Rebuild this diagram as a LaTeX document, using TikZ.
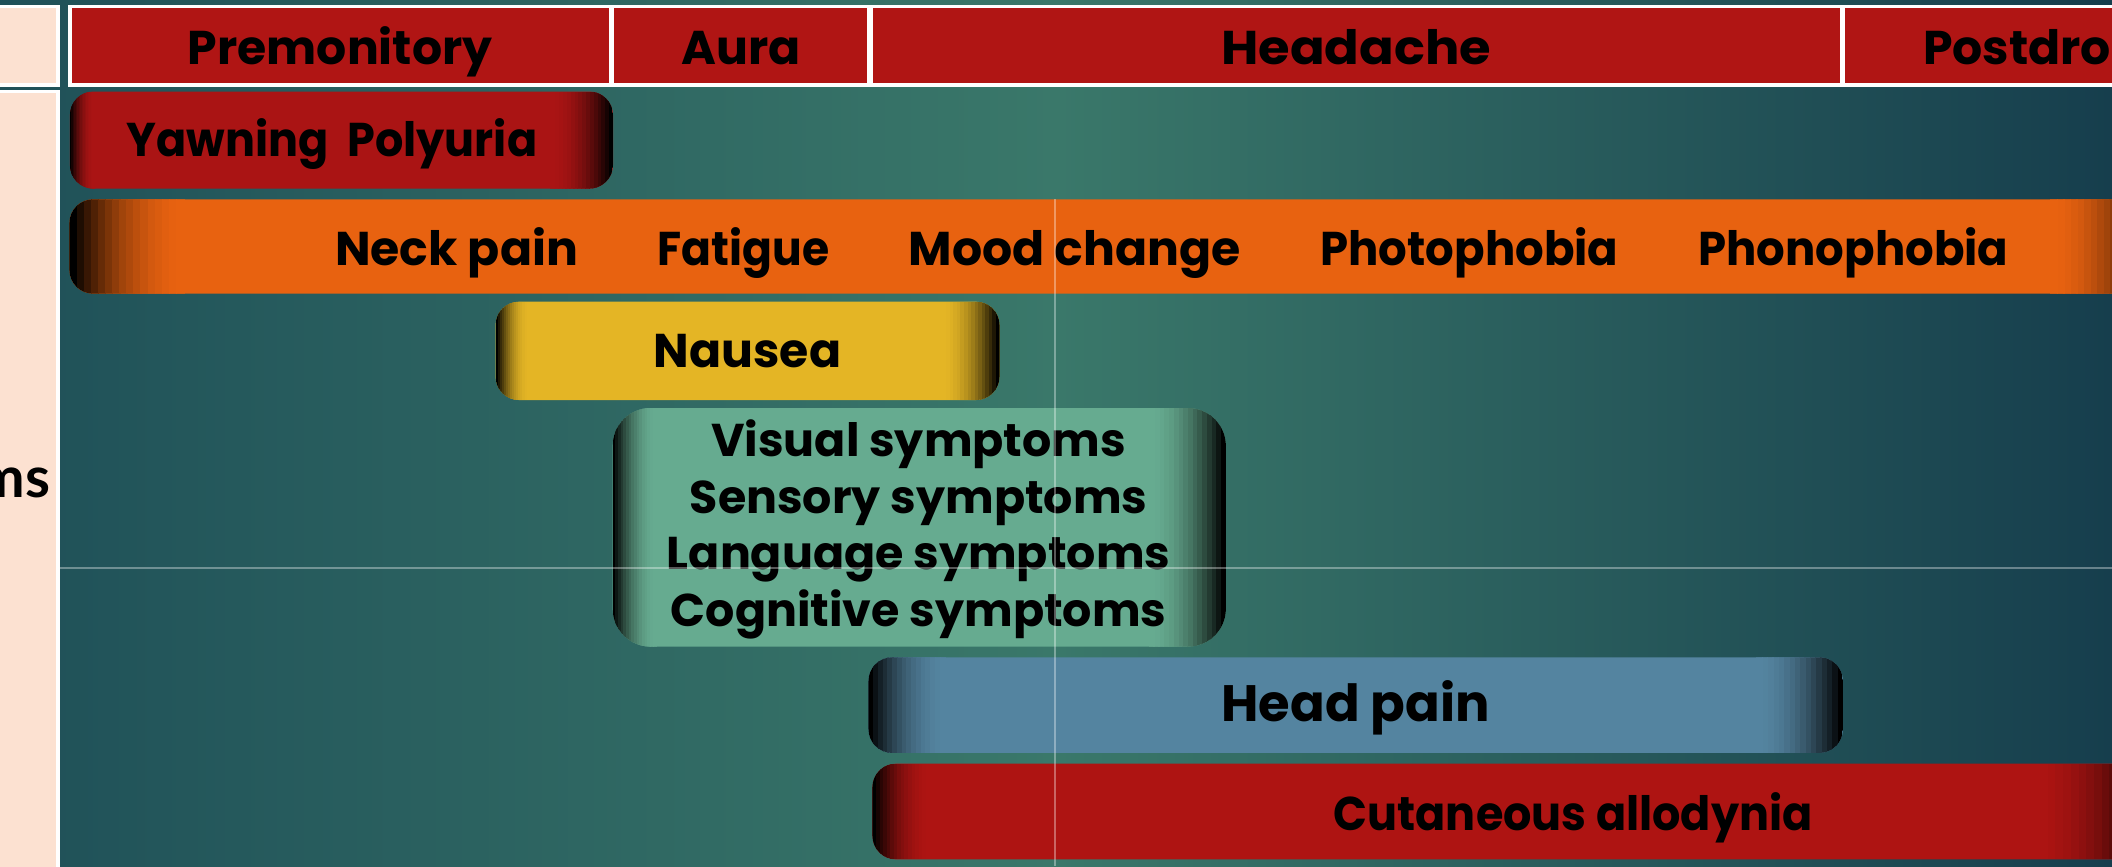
\documentclass[tikz,border=0pt]{standalone}
\usepackage{fontspec}
\setmainfont{Poppins}
\newfontfamily\sidefont{Lato}
\usetikzlibrary{positioning}
\definecolor{bgleft}{RGB}{31,80,88}
\definecolor{bgmid}{RGB}{58,120,106}
\definecolor{bgright}{RGB}{22,62,77}
\definecolor{hdred}{RGB}{176,21,20}
\definecolor{yawnred}{RGB}{170,20,20}
\definecolor{neckorange}{RGB}{232,98,16}
\definecolor{nauseayellow}{RGB}{228,181,37}
\definecolor{auragreen}{RGB}{102,171,144}
\definecolor{painblue}{RGB}{84,132,160}
\definecolor{allored}{RGB}{174,20,18}
\definecolor{peach}{RGB}{252,225,209}

\begin{document}
\begin{tikzpicture}[x=0.01cm, y=-0.01cm,
    txt/.style={text height=0.95em, text depth=0.24em},
    hdcell/.style={rectangle, draw=white, line width=0.7pt, fill=hdred, minimum height=0.58cm, inner sep=0pt, text height=1.05em, text depth=0.24em, font=\bfseries\fontsize{10}{12}\selectfont},
    sidecell/.style={rectangle, draw=white, line width=0.7pt, fill=peach, minimum width=0.63cm, inner sep=0pt},
    bar/.style n args={3}{rectangle, rounded corners=5pt, fill=#1, minimum height=0.72cm, inner sep=0pt, font=\bfseries\fontsize{10}{12}\selectfont,
        path picture={
            \foreach \i in {0,...,15}{
                \pgfmathtruncatemacro\dk{100*(1-\i/16)^2}
                \fill[sharp corners, black!\dk!#1] ([xshift=\i*#2/16]path picture bounding box.south west) rectangle ([xshift=(\i+1)*#2/16+0.3pt]path picture bounding box.north west);
                \fill[sharp corners, black!\dk!#1] ([xshift=-\i*#3/16]path picture bounding box.south east) rectangle ([xshift=-(\i+1)*#3/16-0.3pt]path picture bounding box.north east);
            }
        }},
    lbl/.style={font=\bfseries\fontsize{10}{12}\selectfont, inner sep=0pt, txt},
    faint/.style={white, opacity=0.35, line width=0.4pt}
]
\clip (0,0) rectangle (1568,643);
% background
\shade[left color=bgleft, right color=bgright, middle color=bgmid] (0,0) rectangle (1568,643);

% left column
\node[sidecell, minimum height=0.58cm] (corner) at (11.5,34) {};
\node[sidecell, minimum height=5.92cm] (side) at (11.5,364) {};
\node[anchor=base east, inner sep=0pt, font=\sidefont\bfseries\fontsize{12}{14}\selectfont] (symlbl) at (38,369) {Symptoms};

% phases
\node[hdcell, minimum width=4.01cm] (prem) at (252.5,34) {Premonitory};
\node[hdcell, minimum width=1.90cm] (aura) at (550,34) {Aura};
\node[hdcell, minimum width=7.20cm] (head) at (1007,34) {\scalebox{1.08}[1]{Headache}};
\node[hdcell, minimum width=3.16cm] (post) at (1527,34) {Postdrome};

% symptom bars
\node[bar={yawnred}{5pt}{13pt}, txt, minimum width=4.03cm] (yawn) at (253.5,104) {\hspace*{-0.14cm}\scalebox{0.94}[1]{Yawning\ \ Polyuria}};
\node[bar={neckorange}{24pt}{22pt}, minimum width=15.48cm, minimum height=0.70cm] (neck) at (826,183) {};
\node[bar={nauseayellow}{7pt}{12pt}, txt, minimum width=3.74cm, minimum height=0.73cm] (nausea) at (555,260.5) {Nausea};
\node[bar={auragreen}{9pt}{16pt}, minimum width=4.55cm, minimum height=1.77cm, rounded corners=8pt] (aurabox) at (682.5,391.5) {};
\node[bar={painblue}{16pt}{18pt}, txt, minimum width=7.23cm, minimum height=0.71cm] (pain) at (1006.5,523.5) {\fontsize{10.8}{13}\selectfont Head pain};
\node[bar={allored}{12pt}{26pt}, minimum width=9.52cm, minimum height=0.71cm] (allo) at (1124,602.5) {};

% labels on the bars
\node[lbl] (necklbl) at (339,185) {Neck pain};
\node[lbl] (fatigue) at (552,185) {\scalebox{0.93}[1]{Fatigue}};
\node[lbl] (mood) at (798,185) {Mood change};
\node[lbl] (photo) at (1091,185) {\scalebox{0.95}[1]{Photophobia}};
\node[lbl] (phono) at (1376,185) {\scalebox{0.95}[1]{Phonophobia}};
\node[font=\bfseries\fontsize{9.7}{12}\selectfont, inner sep=0pt, align=center] (auratxt) at (682,393)
    {Visual symptoms\\Sensory symptoms\\Language symptoms\\Cognitive symptoms};
\node[lbl] (allolbl) at (1168,604) {\scalebox{0.94}[1]{Cutaneous allodynia}};

% faint guide lines
\draw[faint] (43,422) -- (1568,422);
\draw[faint] (783,148) -- (783,643);
\end{tikzpicture}
\end{document}
